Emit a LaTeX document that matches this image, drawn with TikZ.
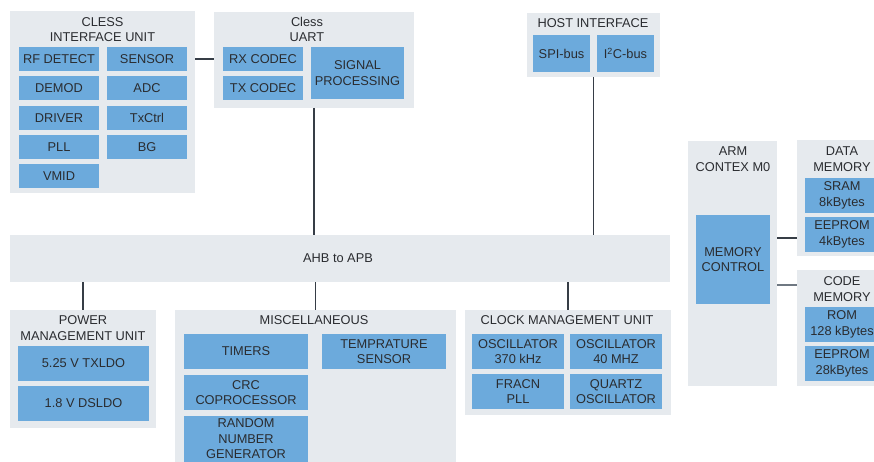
\documentclass[tikz,border=0pt]{standalone}
\usepackage{fontspec}
\setmainfont{Liberation Sans}
\definecolor{greyc}{HTML}{E6EAEE}
\definecolor{bluec}{HTML}{6CAADC}
\definecolor{txtc}{HTML}{2A2C30}
\definecolor{linec}{HTML}{363D46}
\definecolor{linec2}{HTML}{6F7882}
\tikzset{
  outerbox/.style={fill=greyc, draw=none, inner sep=0pt, outer sep=0pt},
  innerbox/.style={fill=bluec, draw=none, inner sep=0pt, outer sep=0pt, align=center, text=txtc},
  ttl/.style={inner sep=0pt, align=center, text=txtc},
  conn/.style={draw=linec, line width=1.2pt},
}
\newcommand\bx[7]{\node[#2, minimum width={(#5-#3)*1pt}, minimum height={(#6-#4)*1pt}] (#1) at ({(#3+#5)/2},{(#4+#6)/2}) {#7};}
\begin{document}
\begin{tikzpicture}[x=1pt,y=-1pt,font=\fontsize{12.8}{15.5}\selectfont]
\useasboundingbox (0,0) rectangle (874,462);
\clip (0,0) rectangle (874,462);
% outer boxes
\bx{cless}{outerbox}{10}{11}{195}{193}{}
\bx{uart}{outerbox}{214}{12}{414}{108}{}
\bx{host}{outerbox}{527}{13}{660}{77}{}
\bx{ahb}{outerbox}{10}{235}{670}{282}{}
\bx{power}{outerbox}{10}{310}{156}{428}{}
\bx{misc}{outerbox}{175}{310}{456}{475}{}
\bx{clock}{outerbox}{465}{310}{671}{415}{}
\bx{arm}{outerbox}{688}{141}{777}{386}{}
\bx{data}{outerbox}{797}{140}{887}{256}{}
\bx{code}{outerbox}{797}{270}{887}{386}{}
% titles
\node[ttl] (tcless) at (102.5,29.5) {CLESS\\INTERFACE UNIT};
\node[ttl] (tuart) at (307,29.5) {Cless\\UART};
\node[ttl] (thost) at (593,23) {HOST INTERFACE};
\node[ttl] (tahb) at (338,258) {AHB to APB};
\node[ttl] (tpower) at (83,328) {POWER\\MANAGEMENT UNIT};
\node[ttl] (tmisc) at (314,320) {MISCELLANEOUS};
\node[ttl] (tclock) at (567,320) {CLOCK MANAGEMENT UNIT};
\node[ttl] (tarm) at (733,159) {ARM\\CONTEX M0};
\node[ttl] (tdata) at (842,159) {DATA\\MEMORY};
\node[ttl] (tcode) at (842,289) {CODE\\MEMORY};
% inner boxes
\bx{rf}{innerbox}{19}{47}{99}{71}{RF DETECT}
\bx{sensor}{innerbox}{107}{47}{187}{71}{SENSOR}
\bx{demod}{innerbox}{19}{76}{99}{100}{DEMOD}
\bx{adc}{innerbox}{107}{76}{187}{100}{ADC}
\bx{driver}{innerbox}{19}{106}{99}{130}{DRIVER}
\bx{txctrl}{innerbox}{107}{106}{187}{130}{TxCtrl}
\bx{pll}{innerbox}{19}{135}{99}{159}{PLL}
\bx{bg}{innerbox}{107}{135}{187}{159}{BG}
\bx{vmid}{innerbox}{19}{164}{99}{188}{VMID}
\bx{rx}{innerbox}{223}{47}{303}{71}{RX CODEC}
\bx{tx}{innerbox}{223}{76}{303}{100}{TX CODEC}
\bx{sig}{innerbox}{311}{47}{404}{99}{SIGNAL\\PROCESSING}
\bx{spi}{innerbox}{533}{35}{590}{72}{SPI-bus}
\bx{i2c}{innerbox}{597}{35}{654}{72}{I\textsuperscript{2}C-bus}
\bx{txldo}{innerbox}{18}{346}{149}{381}{5.25 V TXLDO}
\bx{dsldo}{innerbox}{18}{386}{149}{421}{1.8 V DSLDO}
\bx{timers}{innerbox}{184}{334}{308}{369}{TIMERS}
\bx{temp}{innerbox}{322}{334}{446}{369}{TEMPRATURE\\SENSOR}
\bx{crc}{innerbox}{184}{375}{308}{410}{CRC\\COPROCESSOR}
\node[fill=bluec, inner sep=0pt, outer sep=0pt, minimum width=124pt, minimum height=59pt] (rng) at (246,445.5) {};
\node[ttl] (trng) at (246,439) {RANDOM\\NUMBER\\GENERATOR};
\bx{osca}{innerbox}{472}{334}{564}{369}{OSCILLATOR\\370 kHz}
\bx{oscb}{innerbox}{570}{334}{662}{369}{OSCILLATOR\\40 MHZ}
\bx{fracn}{innerbox}{472}{374}{564}{409}{FRACN\\PLL}
\bx{quartz}{innerbox}{570}{374}{662}{409}{QUARTZ\\OSCILLATOR}
\bx{memctl}{innerbox}{696}{215}{770}{304}{MEMORY\\CONTROL}
\bx{sram}{innerbox}{805}{178}{879}{213}{SRAM\\8kBytes}
\bx{eepa}{innerbox}{805}{217}{879}{252}{EEPROM\\4kBytes}
\bx{rom}{innerbox}{805}{307}{879}{342}{ROM\\128 kBytes}
\bx{eepb}{innerbox}{805}{346}{879}{381}{EEPROM\\28kBytes}
% connectors
\draw[conn] (cless.east |- sensor) -- (uart.west |- rx);
\draw[conn] (uart.south) -- (uart.south |- ahb.north);
\draw[conn] (host.south) -- (host.south |- ahb.north);
\draw[conn] (power.north |- ahb.south) -- (power.north);
\draw[conn] (misc.north |- ahb.south) -- (misc.north);
\draw[conn] (clock.north |- ahb.south) -- (clock.north);
\draw[conn] (arm.east |- 0,238) -- (data.west |- 0,238);
\draw[conn, draw=linec2] (arm.east |- 0,285) -- (code.west |- 0,285);
\end{tikzpicture}
\end{document}
